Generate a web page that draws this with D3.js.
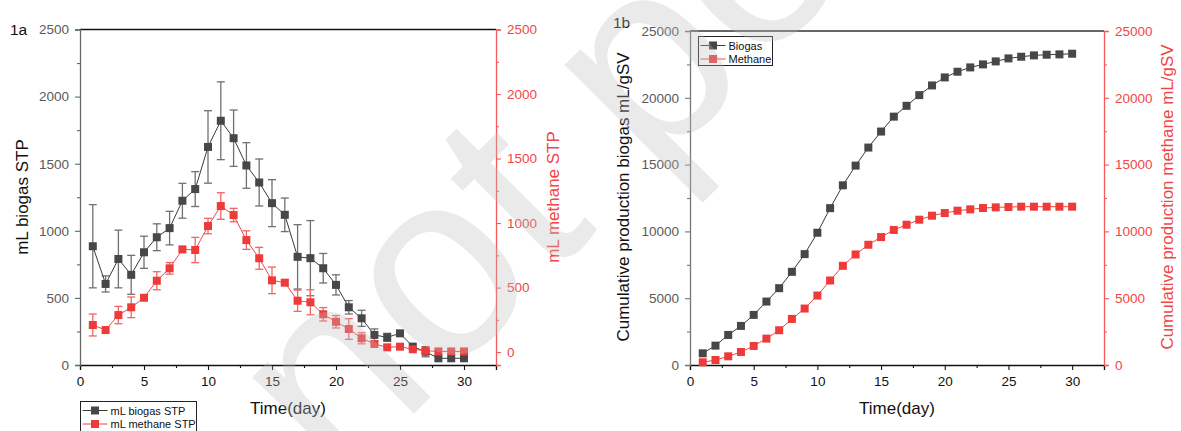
<!DOCTYPE html>
<html>
<head>
<meta charset="utf-8">
<script src="https://cdn.jsdelivr.net/npm/d3@7"></script>
<style>
  body { margin: 0; background: #fff; }
  svg { display: block; font-family: "Liberation Sans", Arial, Helvetica, sans-serif; }
</style>
</head>
<body>
<svg id="chart" width="1181" height="431"></svg>
<script>
// ---- data -------------------------------------------------------------
const days = [1,2,3,4,5,6,7,8,9,10,11,12,13,14,15,16,17,18,19,20,21,22,23,24,25,26,27,28,29,30];

// daily production (mL STP) with standard deviations
const biogasDaily    = [885,604,790,672,840,952,1020,1224,1311,1625,1820,1690,1487,1360,1206,1119,806,796,721,597,430,348,224,206,236,137,99,50,50,50];
const biogasDailyErr = [310,60,215,145,120,100,125,130,130,270,290,210,170,175,175,125,240,280,110,75,50,60,45,30,0,0,38,0,0,0];
const methaneDaily    = [210,171,287,347,421,553,649,796,791,977,1132,1062,868,727,556,538,398,386,293,235,179,107,63,37,42,22,11,5,5,5];
const methaneDailyErr = [85,0,67,80,0,70,45,0,98,60,103,52,72,85,103,20,82,97,52,48,80,43,0,0,0,0,15,0,0,0];

// cumulative production (mL/gSV)
const biogasCumulative  = [875,1450,2250,2925,3750,4750,5750,6975,8300,9900,11740,13450,14925,16275,17475,18590,19400,20200,20925,21525,21950,22275,22500,22725,22950,23075,23175,23225,23250,23300];
const methaneCumulative = [200,375,650,975,1425,1975,2600,3450,4225,5200,6325,7425,8275,9000,9575,10110,10500,10875,11175,11375,11550,11650,11750,11800,11825,11850,11850,11850,11850,11850];

// axis ticks
const dayTicks       = [0,5,10,15,20,25,30];
const dayMinorTicks  = [2.5,7.5,12.5,17.5,22.5,27.5,32.5];
const dailyTicks     = [0,500,1000,1500,2000,2500];
const dailyMinor     = [250,750,1250,1750,2250];
const cumTicks       = [0,5000,10000,15000,20000,25000];
const cumMinor       = [2500,7500,12500,17500,22500];

// ---- styles -----------------------------------------------------------
const GRAY_MARK = "#474747", GRAY_LINE = "#3a3a3a", GRAY_ERR = "#707070";
const RED_MARK = "#ef3a3a", RED_LINE = "#f04848", RED_ERR = "#f26464";
const RED_AXIS = "#f45a5a", RED_TEXT = "#f24646";
const fmt = d3.format("d");

const svg = d3.select("#chart");

function drawAxis(g, axisGen, minorGen, lineColor, textColor) {
  g.call(axisGen);
  g.select(".domain").attr("stroke", lineColor).attr("stroke-width", 1.3);
  g.selectAll(".tick line").attr("stroke", lineColor).attr("stroke-width", 1.1);
  g.selectAll(".tick text").attr("fill", textColor).attr("font-size", 13.5)
    .attr("font-family", "Liberation Sans, Arial, sans-serif");
  const m = g.append("g").call(minorGen);
  m.select(".domain").remove();
  m.selectAll(".tick line").attr("stroke", lineColor).attr("stroke-width", 1.1);
  m.selectAll(".tick text").remove();
}

function drawSeries(g, x, y, values, errs, lineColor, markColor, errColor) {
  if (errs) {
    const eb = g.append("g");
    days.forEach((d, i) => {
      if (!errs[i]) return;
      const cx = x(d), y0 = y(values[i] - errs[i]), y1 = y(values[i] + errs[i]);
      eb.append("line").attr("x1", cx).attr("x2", cx).attr("y1", y0).attr("y2", y1)
        .attr("stroke", errColor).attr("stroke-width", 1.3);
      [y0, y1].forEach(yy => eb.append("line")
        .attr("x1", cx - 4).attr("x2", cx + 4).attr("y1", yy).attr("y2", yy)
        .attr("stroke", errColor).attr("stroke-width", 1.3));
    });
  }
  const line = d3.line().x((d, i) => x(days[i])).y(d => y(d));
  g.append("path").datum(values).attr("d", line)
    .attr("fill", "none").attr("stroke", lineColor).attr("stroke-width", 1);
  g.selectAll(null).data(values).join("rect")
    .attr("x", (d, i) => x(days[i]) - 4).attr("y", d => y(d) - 4)
    .attr("width", 8).attr("height", 8).attr("fill", markColor);
}

function legend(g, x0, y0, w, h, items) {
  g.append("rect").attr("x", x0).attr("y", y0).attr("width", w).attr("height", h)
    .attr("fill", "#fff").attr("stroke", "#222").attr("stroke-width", 1);
  items.forEach((it, i) => {
    const yy = y0 + 9 + i * 13.5;
    g.append("line").attr("x1", x0 + 2).attr("x2", x0 + 27).attr("y1", yy).attr("y2", yy)
      .attr("stroke", it.line).attr("stroke-width", 1);
    g.append("rect").attr("x", x0 + 10.5).attr("y", yy - 4).attr("width", 8).attr("height", 8)
      .attr("fill", it.mark);
    g.append("text").attr("x", x0 + 30).attr("y", yy + 4).attr("font-size", 11)
      .attr("fill", "#111").text(it.label);
  });
}

// ---- panel 1a: daily production ---------------------------------------
{
  const left = 80, right = 496, top = 29.5, bottom = 365;
  const x = d3.scaleLinear().domain([0, 32.5]).range([left, right]);
  const yL = d3.scaleLinear().domain([0, 2500]).range([bottom, top]);
  const yR = d3.scaleLinear().domain([-100, 2500]).range([bottom, top]);
  const g = svg.append("g");

  g.append("line").attr("x1", left).attr("x2", right).attr("y1", top).attr("y2", top)
    .attr("stroke", "#111").attr("stroke-width", 1.3);

  drawAxis(g.append("g").attr("transform", `translate(0,${bottom})`),
    d3.axisBottom(x).tickValues(dayTicks).tickSize(5).tickPadding(6).tickFormat(fmt),
    d3.axisBottom(x).tickValues(dayMinorTicks).tickSize(3).tickFormat(""), "#111", "#111");
  drawAxis(g.append("g").attr("transform", `translate(${left},0)`),
    d3.axisLeft(yL).tickValues(dailyTicks).tickSize(5).tickPadding(6).tickFormat(fmt),
    d3.axisLeft(yL).tickValues(dailyMinor).tickSize(3).tickFormat(""), "#666", "#5a5a5a");
  drawAxis(g.append("g").attr("transform", `translate(${right},0)`),
    d3.axisRight(yR).tickValues(dailyTicks).tickSize(5).tickPadding(6).tickFormat(fmt),
    d3.axisRight(yR).tickValues(dailyMinor).tickSize(3).tickFormat(""), RED_AXIS, RED_TEXT);

  drawSeries(g, x, yL, biogasDaily, biogasDailyErr, GRAY_LINE, GRAY_MARK, GRAY_ERR);
  drawSeries(g, x, yR, methaneDaily, methaneDailyErr, RED_LINE, RED_MARK, RED_ERR);

  g.append("text").attr("x", 10).attr("y", 35).attr("font-size", 15.5).attr("fill", "#111").text("1a");
  g.append("text").attr("transform", "translate(28,197) rotate(-90)").attr("text-anchor", "middle")
    .attr("font-size", 17).attr("fill", "#111").text("mL biogas STP");
  g.append("text").attr("transform", "translate(559,197) rotate(-90)").attr("text-anchor", "middle")
    .attr("font-size", 17).attr("fill", RED_TEXT).text("mL methane STP");
  g.append("text").attr("x", (left + right) / 2).attr("y", 414).attr("text-anchor", "middle")
    .attr("font-size", 17).attr("fill", "#111").text("Time(day)");

  legend(g, 80.5, 401.5, 116, 40, [
    { label: "mL biogas STP", line: GRAY_LINE, mark: GRAY_MARK },
    { label: "mL methane STP", line: RED_LINE, mark: RED_MARK }
  ]);
}

// ---- panel 1b: cumulative production ----------------------------------
{
  const left = 690, right = 1104, top = 31, bottom = 365;
  const x = d3.scaleLinear().domain([0, 32.5]).range([left, right]);
  const yL = d3.scaleLinear().domain([0, 25000]).range([bottom, top]);
  const yR = d3.scaleLinear().domain([0, 25000]).range([bottom, top]);
  const g = svg.append("g");

  g.append("line").attr("x1", left).attr("x2", right).attr("y1", top).attr("y2", top)
    .attr("stroke", "#333").attr("stroke-width", 1.3);

  drawAxis(g.append("g").attr("transform", `translate(0,${bottom})`),
    d3.axisBottom(x).tickValues(dayTicks).tickSize(5).tickPadding(6).tickFormat(fmt),
    d3.axisBottom(x).tickValues(dayMinorTicks).tickSize(3).tickFormat(""), "#111", "#111");
  drawAxis(g.append("g").attr("transform", `translate(${left},0)`),
    d3.axisLeft(yL).tickValues(cumTicks).tickSize(5).tickPadding(6).tickFormat(fmt),
    d3.axisLeft(yL).tickValues(cumMinor).tickSize(3).tickFormat(""), "#777", "#5a5a5a");
  drawAxis(g.append("g").attr("transform", `translate(${right},0)`),
    d3.axisRight(yR).tickValues(cumTicks).tickSize(5).tickPadding(6).tickFormat(fmt),
    d3.axisRight(yR).tickValues(cumMinor).tickSize(3).tickFormat(""), RED_AXIS, RED_TEXT);

  drawSeries(g, x, yL, biogasCumulative, null, GRAY_LINE, GRAY_MARK, GRAY_ERR);
  drawSeries(g, x, yR, methaneCumulative, null, RED_LINE, RED_MARK, RED_ERR);

  g.append("text").attr("x", 613).attr("y", 28).attr("font-size", 15.5).attr("fill", "#111").text("1b");
  g.append("text").attr("transform", "translate(629,197) rotate(-90)").attr("text-anchor", "middle")
    .attr("font-size", 17).attr("fill", "#111").text("Cumulative production biogas mL/gSV");
  g.append("text").attr("transform", "translate(1173,197) rotate(-90)").attr("text-anchor", "middle")
    .attr("font-size", 17).attr("fill", RED_TEXT).text("Cumulative production methane mL/gSV");
  g.append("text").attr("x", (left + right) / 2).attr("y", 414).attr("text-anchor", "middle")
    .attr("font-size", 17).attr("fill", "#111").text("Time(day)");

  legend(g, 698.5, 36.5, 74, 29, [
    { label: "Biogas", line: GRAY_LINE, mark: GRAY_MARK },
    { label: "Methane", line: RED_LINE, mark: RED_MARK }
  ]);
}

// ---- preprint watermark -----------------------------------------------
{
  const fs = 265;
  svg.append("text")
    .attr("transform", "translate(446,284) rotate(-45)")
    .attr("x", -4.613 * fs).attr("y", 0.26 * fs)
    .attr("font-size", fs)
    .attr("font-family", "Liberation Sans, Arial, sans-serif")
    .attr("fill", "#bdbdbd").attr("fill-opacity", 0.32)
    .attr("pointer-events", "none")
    .text("Preprint not peer reviewed");
}
</script>
</body>
</html>
